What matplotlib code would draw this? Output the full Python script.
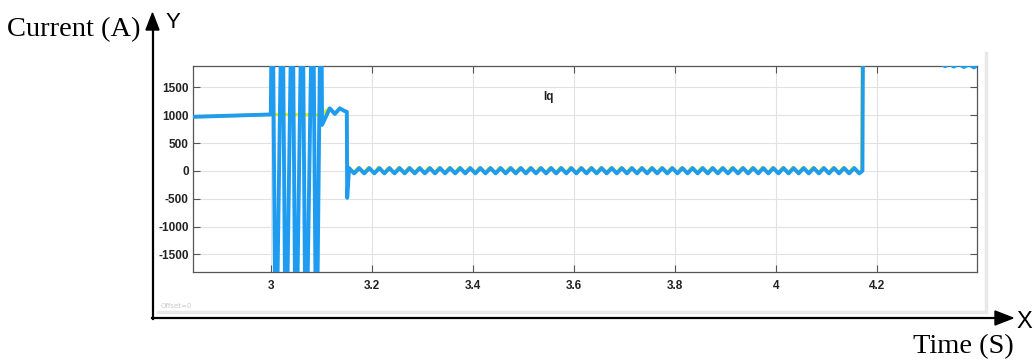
import matplotlib.pyplot as plt
import numpy as np
from matplotlib.patches import Polygon

plt.rcParams['axes.unicode_minus'] = False

W, H = 1034, 360

# ---------- data ----------
lead_t = [2.846, 2.90, 2.95, 3.000]
lead_v = [970, 985, 998, 1012]

# switching burst: peaks / troughs of the large oscillation (clipped by the axes)
peak_t = [3.0030, 3.0228, 3.0426, 3.0624, 3.0832, 3.0995]
trough_t = [3.0100, 3.0298, 3.0496, 3.0694, 3.0902]
burst_peak = 4000
burst_trough = -4000

recov_t = [3.1015, 3.1168, 3.1267, 3.1366, 3.1446, 3.1505, 3.1512, 3.1550]
recov_v = [824, 1123, 1021, 1123, 1080, 1060, -484, 50]

# steady-state ripple around zero (one trough, one peak per 0.02 s)
ripple_cycle = [-45, 50]
ripple_start, ripple_end, ripple_step = 3.165, 4.165, 0.01

jump_t = [4.1712, 4.1725, 4.25, 4.325]
jump_v = [0, 2700, 2300, 1930]

tail_t = [4.335, 4.343, 4.352, 4.362, 4.372, 4.382, 4.392, 4.400]
tail_v = [1878, 1925, 1872, 1920, 1864, 1912, 1856, 1905]

ref_level = 1005  # yellow reference during the burst

x_ticks = [3, 3.2, 3.4, 3.6, 3.8, 4, 4.2]
x_ticklabels = ["3", "3.2", "3.4", "3.6", "3.8", "4", "4.2"]
y_ticks = [-1500, -1000, -500, 0, 500, 1000, 1500]

# ---------- build series ----------
burst_t, burst_v = [], []
for i, p in enumerate(peak_t):
    burst_t.append(p)
    burst_v.append(burst_peak)
    if i < len(trough_t):
        burst_t.append(trough_t[i])
        burst_v.append(burst_trough)

n_rip = int(round((ripple_end - ripple_start) / ripple_step)) + 1
rip_t = ripple_start + ripple_step * np.arange(n_rip)
rip_v = np.resize(ripple_cycle, n_rip)

blue_t = np.concatenate([lead_t, burst_t, recov_t, rip_t, jump_t, tail_t])
blue_v = np.concatenate([lead_v, burst_v, recov_v, rip_v, jump_v, tail_v])

yel_t = np.concatenate([lead_t, [3.100], recov_t[1:6], [3.1508, 3.1545],
                        rip_t - 0.0015, np.array(jump_t) - 0.0012, tail_t])
yel_v = np.concatenate([lead_v, [ref_level], recov_v[1:6], [40, 55],
                        rip_v + 8, jump_v, tail_v])

# ---------- figure ----------
fig = plt.figure(figsize=(W / 100, H / 100), dpi=100)

bg = fig.add_axes([0, 0, 1, 1])
bg.set_xlim(0, W)
bg.set_ylim(H, 0)
bg.axis('off')

# screenshot panel edges
bg.plot([986, 986], [53, 312], color='#e8e8e8', lw=2.5)
bg.plot([158, 986], [312, 312], color='#e8e8e8', lw=2.5)
bg.text(161, 306, "Offset=0", fontsize=5, color='#c8c8c8', va='center')

# outer axes with arrows
bg.plot([152.5, 152.5], [28, 319], color='black', lw=1.6)
bg.add_patch(Polygon([(146, 30), (159, 30), (152.5, 13)], closed=True, color='black'))
bg.plot([152, 996], [318, 318], color='black', lw=1.6)
bg.add_patch(Polygon([(995, 311), (995, 325), (1013, 318)], closed=True, color='black'))

bg.text(7, 36, "Current (A)", fontsize=20.5, family='Liberation Serif', va='baseline')
bg.text(913, 353, "Time (S)", fontsize=20.5, family='Liberation Serif', va='baseline')
bg.text(166, 28, "Y", fontsize=16, family='Liberation Sans', va='baseline')
bg.text(1016, 328, "X", fontsize=17, family='Liberation Sans', va='baseline')

ax = fig.add_axes([193 / W, 1 - 272 / H, 784 / W, 206 / H])
ax.plot(yel_t, yel_v, color='#e4f000', lw=2.4, zorder=2)
ax.plot(blue_t, blue_v, color='#1f9cf0', lw=2.8, zorder=3)

ax.set_xlim(2.846, 4.398)
ax.set_ylim(-1815, 1882)
ax.set_xticks(x_ticks)
ax.set_xticklabels(x_ticklabels)
ax.set_yticks(y_ticks)
ax.grid(True, color='#e2e2e2', lw=0.8)
ax.set_axisbelow(True)
ax.tick_params(direction='in', length=5, width=0.8, color='#555555',
               top=True, right=True, labelsize=8.5, labelcolor='#222222')
ax.tick_params(axis='x', pad=6)
ax.tick_params(axis='y', pad=3)
for lab in ax.get_xticklabels() + ax.get_yticklabels():
    lab.set_fontweight('bold')
    lab.set_family('Liberation Sans')
for sp in ax.spines.values():
    sp.set_color('#555555')
    sp.set_linewidth(0.9)

ax.text(3.55, 1330, "Iq", fontsize=8.5, fontweight='bold', family='Liberation Sans',
        ha='center', va='center', color='#222222')

fig.savefig("out.png", dpi=100)
